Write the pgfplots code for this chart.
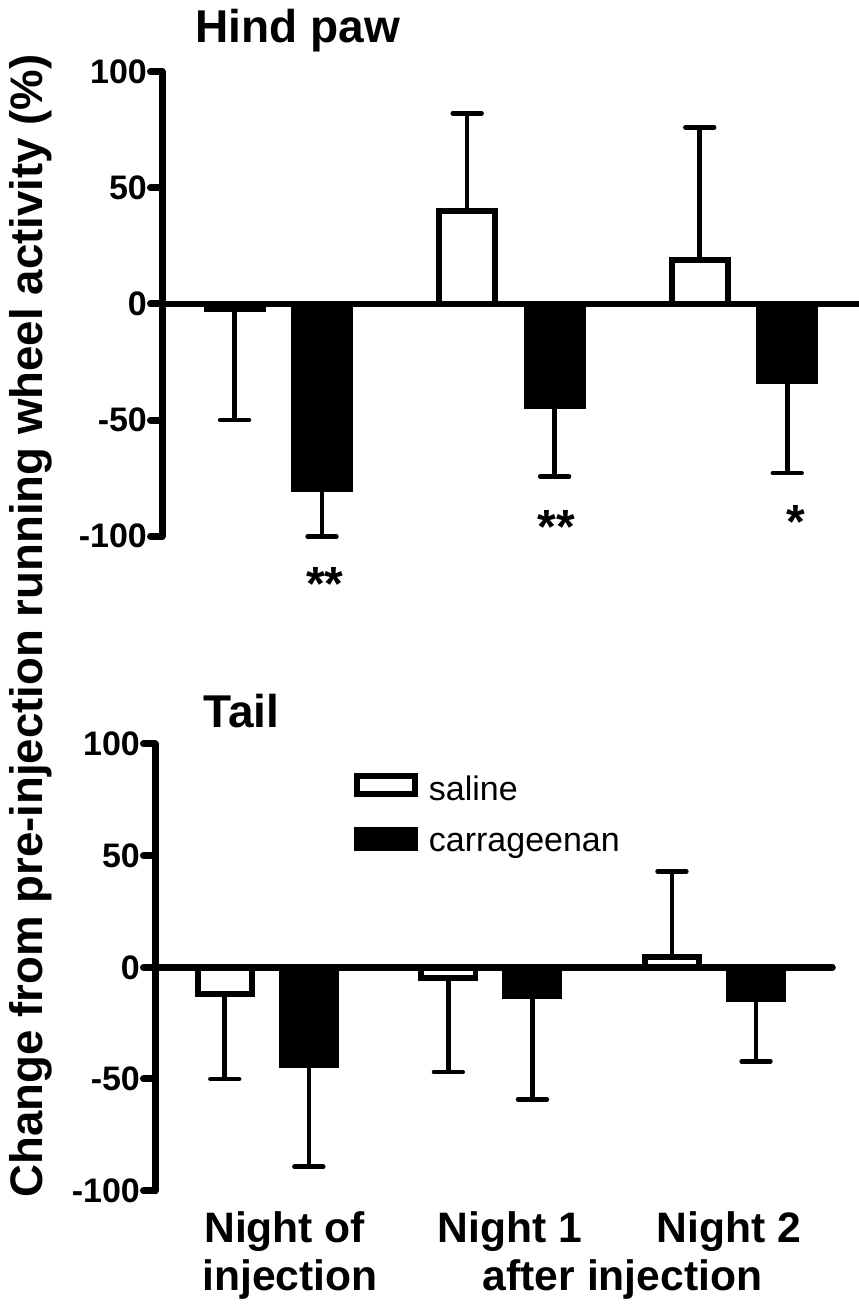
\documentclass[border=0pt]{standalone}
\usepackage{pgfplots}
\pgfplotsset{compat=1.18}
\usepackage{fontspec}
\setmainfont{Liberation Sans}

\begin{document}
\begin{tikzpicture}
\useasboundingbox (0pt,0pt) rectangle (429pt,652.5pt);
\pgfplotsset{
  panel/.style={
    xmin=0.5, xmax=3.53, ymin=-100, ymax=100,
    axis y line*=left, axis x line*=bottom,
    x axis line style={draw=none},
    y axis line style={line width=3.5pt, line cap=round},
    xtick style={draw=none},
    ytick={-100,-50,0,50,100},
    yticklabels={-100,-50,0,50,100},
    ytick style={line width=3.5pt, line cap=round, black},
    tick align=outside,
    major tick length=5.75pt,
    yticklabel style={font=\fontsize{17}{17}\selectfont\bfseries, inner sep=0pt, xshift=-1.6pt},
    clip=false,
    every axis title shift=0pt,
    title style={font=\fontsize{23}{23}\selectfont\bfseries, inner sep=0pt, anchor=base west},
  },
  bars/.style={ybar, bar width=0.242, bar shift=0pt, draw=black, line width=2.9pt},
  errs/.style={forget plot, draw=none, mark=none,
    error bars/y explicit,
    error bars/error bar style={draw=black, line width=2.3pt},
    error bars/error mark options={draw=black, line width=2.3pt, mark size=7.2pt, line cap=round, rotate=90}},
}

% ---------------- Hind paw ----------------
\begin{axis}[panel, x=116.3pt, y=1.1615pt, at={(81pt,384.35pt)}, anchor=south west,
  xtick=\empty, title={Hind paw}, title style={at={(0.0468,1.0618)}}]
\addplot[bars, fill=white] coordinates {(0.812,-2) (1.812,39.9) (2.812,19.1)};
\addplot[bars, fill=black] coordinates {(1.188,-79.8) (2.188,-43.9) (3.188,-33.1)};
\addplot[errs, error bars/y dir=plus] coordinates {
  (1.812,39.9) +- (0,42.2)
  (2.812,19.1) +- (0,56.9)};
\addplot[errs, error bars/y dir=minus] coordinates {
  (0.812,-2) +- (0,48)
  (1.188,-79.8) +- (0,20.4)
  (2.188,-43.9) +- (0,30.4)
  (3.188,-33.1) +- (0,39.7)};
\draw[line width=3.3pt, line cap=round] (axis cs:0.5,0) -- (axis cs:3.53,0);
\node[anchor=base, font=\fontsize{24}{24}\selectfont\bfseries] at (axis cs:1.2,-127.7) {**};
\node[anchor=base, font=\fontsize{24}{24}\selectfont\bfseries] at (axis cs:2.194,-103) {**};
\node[anchor=base, font=\fontsize{24}{24}\selectfont\bfseries] at (axis cs:3.226,-101) {*};
\end{axis}

% ---------------- Tail ----------------
\begin{axis}[panel, x=111.8pt, y=1.117pt, at={(77.5pt,57.15pt)}, anchor=south west,
  xtick={1.08,2.088,3.067}, xticklabels={Night of,Night 1,Night 2},
  xticklabel style={font=\fontsize{21.3}{21.3}\selectfont\bfseries, anchor=base, yshift=-20.2pt},
  title={Tail}, title style={at={(0.0708,1.0356)}},
  legend style={at={(0.294,0.9345)}, anchor=north west, draw=none, fill=none,
    inner sep=0pt, outer sep=0pt, row sep=12.05pt, column sep=5.45pt,
    font=\fontsize{17}{17}\selectfont, nodes={inner sep=0pt}},
  legend cell align=left,
  legend image code/.code={\draw[#1,/tikz/.cd,line width=2.9pt,sharp corners] (0pt,-2.45pt) rectangle (29pt,6.65pt);}]
\addplot[bars, fill=white] coordinates {(0.812,-11.8) (1.812,-4.65) (2.812,4.6)};
\addlegendentry{saline}
\addplot[bars, fill=black] coordinates {(1.188,-43.8) (2.188,-13.0) (3.188,-14.3)};
\addlegendentry{carrageenan}
\addplot[errs, error bars/y dir=plus] coordinates {
  (2.812,4.6) +- (0,38.4)};
\addplot[errs, error bars/y dir=minus] coordinates {
  (0.812,-11.8) +- (0,38.2)
  (1.812,-4.65) +- (0,42.25)
  (1.188,-43.8) +- (0,45.5)
  (2.188,-13.0) +- (0,46.1)
  (3.188,-14.3) +- (0,27.8)};
\draw[line width=3.3pt, line cap=round] (axis cs:0.5,0) -- (axis cs:3.53,0);
\node[anchor=base, font=\fontsize{21.3}{21.3}\selectfont\bfseries] at (axis cs:1.104,-144.8) {injection};
\node[anchor=base, font=\fontsize{21.3}{21.3}\selectfont\bfseries] at (axis cs:2.591,-144.8) {after injection};
\end{axis}

\node[rotate=90, anchor=base, font=\fontsize{22.8}{22.8}\selectfont\bfseries] at (21pt,339.5pt)
  {Change from pre-injection running wheel activity (\%)};
\end{tikzpicture}
\end{document}
